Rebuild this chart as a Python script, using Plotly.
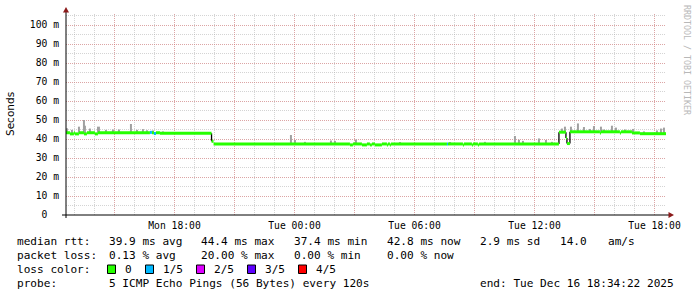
import numpy as np
import plotly.graph_objects as go

# ---------------- data ----------------
START_HOUR = 12.573   # hours since Mon 00:00 (Mon 12:34:22)
END_HOUR = 42.573     # Tue 18:34:22

# median rtt step segments: start hour, value (ms), lost pings out of 5
seg_hours = [12.57, 12.77, 12.97, 13.02, 13.22, 13.47, 13.62, 14.02, 14.17, 16.77,
             16.87, 16.97, 17.07, 17.27, 19.85, 19.95, 26.77, 26.92, 27.37, 27.62,
             27.77, 27.87, 28.02, 28.37, 28.62, 28.67, 28.77, 28.82, 31.62, 31.67,
             32.42, 32.47, 32.87, 32.92, 33.17, 33.22, 37.22, 37.57, 37.62, 37.77,
             39.27, 39.32, 40.27, 40.32, 40.87, 41.27]
seg_rtt = [43.3, 42.7, 43.3, 42.7, 43.3, 42.7, 43.3, 42.7, 43.3, 43.5,
           43.3, 42.9, 43.3, 43.0, 38.8, 37.4, 36.9, 37.4, 36.9, 37.4,
           36.9, 37.4, 36.9, 37.4, 36.9, 37.4, 36.9, 37.4, 37.4, 37.4,
           36.9, 37.4, 36.9, 37.4, 36.9, 37.4, 43.6, 40.5, 37.6, 43.8,
           43.1, 43.8, 43.1, 43.8, 43.2, 42.8]
seg_loss = [0, 0, 0, 0, 0, 0, 0, 0, 0, 1,
            0, 1, 0, 0, 0, 0, 0, 0, 0, 0,
            0, 0, 0, 0, 0, 0, 0, 0, 1, 0,
            0, 0, 0, 0, 0, 0, 0, 0, 0, 0,
            0, 0, 0, 0, 0, 0]

# smoke spikes (max ping) : hour, top value (ms)
spike_hours = [12.62, 12.87, 13.22, 13.47, 13.52, 13.77, 14.22, 14.57, 14.92, 15.22,
               15.82, 16.12, 16.42, 16.62, 16.92, 17.42, 23.82, 24.02, 24.52, 25.82,
               26.02, 27.07, 29.27, 31.77, 33.52, 35.02, 35.22, 35.42, 36.22, 36.57,
               36.87, 37.37, 37.52, 37.82, 38.17, 38.47, 38.77, 38.97, 39.32, 39.47,
               39.87, 40.07, 40.52, 40.92, 41.47, 42.12, 42.32, 42.47]
spike_top = [45.6, 44.8, 46.5, 50.0, 47.0, 45.5, 46.5, 44.8, 45.0, 45.0,
             47.9, 44.8, 45.2, 44.6, 44.5, 44.0, 42.1, 39.5, 38.5, 39.2,
             39.0, 39.7, 38.2, 38.3, 38.5, 41.6, 39.6, 39.0, 40.3, 39.5,
             38.5, 45.5, 46.5, 46.5, 48.2, 46.3, 45.3, 46.8, 46.5, 45.0,
             47.0, 46.0, 45.0, 45.3, 44.0, 44.5, 45.5, 46.0]

y_tick_vals = [0, 10, 20, 30, 40, 50, 60, 70, 80, 90, 100]
y_tick_text = ["0\u00a0\u00a0", "10 m", "20 m", "30 m", "40 m", "50 m",
               "60 m", "70 m", "80 m", "90 m", "100 m"]
x_major_hours = [15, 18, 21, 24, 27, 30, 33, 36, 39, 42]
x_label_hours = [18, 24, 30, 36, 42]

loss_names = ["0", "1/5", "2/5", "3/5", "4/5"]
loss_colors = ["#26ff00", "#00b8ff", "#dd00ff", "#5e00ff", "#ff0000"]

legend_line1 = ["median rtt:", "39.9 ms avg", "44.4 ms max", "37.4 ms min",
                "42.8 ms now", "2.9 ms sd", "14.0", "am/s"]
legend_line2 = ["packet loss:", "0.13 % avg", "20.00 % max", "0.00 % min", "0.00 % now"]
legend_line4 = ["probe:", "5 ICMP Echo Pings (56 Bytes) every 120s",
                "end: Tue Dec 16 18:34:22 2025"]
y_title = "Seconds"
watermark = "RRDTOOL / TOBI OETIKER"

# ---------------- geometry helpers ----------------
PL, PR, PT, PB = 66, 666, 14, 215
W, H = 697, 297


def px(x):
    return (x - PL) / (PR - PL)


def py(y):
    return (PB - y) / (PB - PT)


def hour_label(h):
    day = "Mon" if h < 24 else "Tue"
    hh = int(h % 24)
    return f"{day} {hh:02d}:00"


x_tick_text = [hour_label(h) if h in x_label_hours else "" for h in x_major_hours]

seg_h = np.array(seg_hours)
seg_v = np.array(seg_rtt)
ends = list(seg_hours[1:]) + [END_HOUR]

fig = go.Figure()

# smoke
sp_h = np.array(spike_hours)
idx = np.searchsorted(seg_h, sp_h, side="right") - 1
base = seg_v[idx]
fig.add_trace(go.Bar(x=sp_h, y=np.array(spike_top) - base, base=base, width=0.1,
                     marker=dict(color="#a0a0a0", line=dict(width=0)),
                     hoverinfo="skip"))

# black connectors only for larger steps
cx, cy = [], []
for i in range(1, len(seg_hours)):
    if abs(seg_rtt[i] - seg_rtt[i - 1]) > 2:
        cx += [seg_hours[i], seg_hours[i], None]
        cy += [seg_rtt[i - 1], seg_rtt[i], None]
fig.add_trace(go.Scatter(x=cx, y=cy, mode="lines", line=dict(color="black", width=1.3),
                         hoverinfo="skip"))

# coloured median segments by loss
for lvl, col in enumerate(loss_colors):
    xs, ys = [], []
    for s, e, v, l in zip(seg_hours, ends, seg_rtt, seg_loss):
        if l == lvl:
            xs += [s, e, None]
            ys += [v, v, None]
    if xs:
        fig.add_trace(go.Scatter(x=xs, y=ys, mode="lines",
                                 line=dict(color=col, width=3), hoverinfo="skip"))

MONO = "DejaVu Sans Mono"
MAJ = "rgba(230,100,100,0.42)"
MIN = "rgba(170,170,170,0.5)"
DOT = "1px,1px"

fig.update_layout(
    width=W, height=H, autosize=False,
    margin=dict(l=PL, r=W - PR, t=PT, b=H - PB, pad=0),
    paper_bgcolor="white", plot_bgcolor="white",
    showlegend=False, barmode="overlay",
    xaxis=dict(range=[START_HOUR, END_HOUR], tickmode="array", tickvals=x_major_hours,
               ticktext=x_tick_text, showgrid=True, gridcolor=MAJ, griddash=DOT, gridwidth=1,
               zeroline=False, showline=False, ticks="", ticklabelstandoff=3,
               tickfont=dict(family=MONO, size=9.7, color="black"),
               minor=dict(tickmode="linear", tick0=0, dtick=1, showgrid=True,
                          gridcolor=MIN, griddash=DOT, gridwidth=1, ticks="")),
    yaxis=dict(range=[0, 105.8], tickmode="array", tickvals=y_tick_vals, ticktext=y_tick_text,
               showgrid=True, gridcolor=MAJ, griddash=DOT, gridwidth=1,
               zeroline=False, showline=False, ticks="", ticklabelstandoff=6,
               tickfont=dict(family=MONO, size=9.7, color="black"),
               minor=dict(tickmode="linear", tick0=0, dtick=5, showgrid=True,
                          gridcolor=MIN, griddash=DOT, gridwidth=1, ticks="")),
)

shapes = []
# axes lines
shapes.append(dict(type="line", xref="paper", yref="paper", x0=px(62), x1=px(669),
                   y0=0, y1=0, line=dict(color="black", width=1)))
shapes.append(dict(type="line", xref="paper", yref="paper", x0=0, x1=0,
                   y0=py(218), y1=py(11), line=dict(color="black", width=1)))
# arrows
AR = "#8b1a1a"
shapes.append(dict(type="path", xref="paper", yref="paper",
                   path=f"M {px(63)} {py(12.5)} L {px(69)} {py(12.5)} L {px(66)} {py(7)} Z",
                   fillcolor=AR, line=dict(color=AR, width=0)))
shapes.append(dict(type="path", xref="paper", yref="paper",
                   path=f"M {px(668.5)} {py(212)} L {px(668.5)} {py(218)} L {px(674)} {py(215)} Z",
                   fillcolor=AR, line=dict(color=AR, width=0)))

annotations = []


def txt(x, y, s, size=11.1, color="black", family=MONO, angle=0, xanchor="left"):
    annotations.append(dict(x=px(x), y=py(y), xref="paper", yref="paper", text=s,
                            showarrow=False, xanchor=xanchor, yanchor="middle",
                            textangle=angle, font=dict(family=family, size=size, color=color)))


L1, L2, L3, L4 = 241.5, 255.3, 269.3, 283.3
line1_x = [15.3, 106.6, 199.3, 292.0, 385.3, 477.6, 557.6, 606.2]
for x, s in zip(line1_x, legend_line1):
    txt(x, L1, s)
line2_x = [15.3, 106.6, 199.3, 292.0, 385.3]
for x, s in zip(line2_x, legend_line2):
    txt(x, L2, s)
txt(15.3, L3, "loss color:")
sq_x = [107.5, 145.5, 196.5, 247.5, 298.5]
for x, s, c in zip(sq_x, loss_names, loss_colors):
    shapes.append(dict(type="rect", xref="paper", yref="paper", x0=px(x), x1=px(x + 8),
                       y0=py(273.5), y1=py(265), fillcolor=c, line=dict(color="black", width=1)))
    txt(x + 15, L3, s)
line4_x = [15.3, 106.6, 477.6]
for x, s in zip(line4_x, legend_line4):
    txt(x, L4, s)

txt(10, 114, y_title, size=10.5, family="DejaVu Sans", angle=-90, xanchor="center")
txt(687, 60, watermark, size=8.3, color="#b8b8b8", angle=90, xanchor="center")

fig.update_layout(shapes=shapes, annotations=annotations)
fig.write_html("out.html")
